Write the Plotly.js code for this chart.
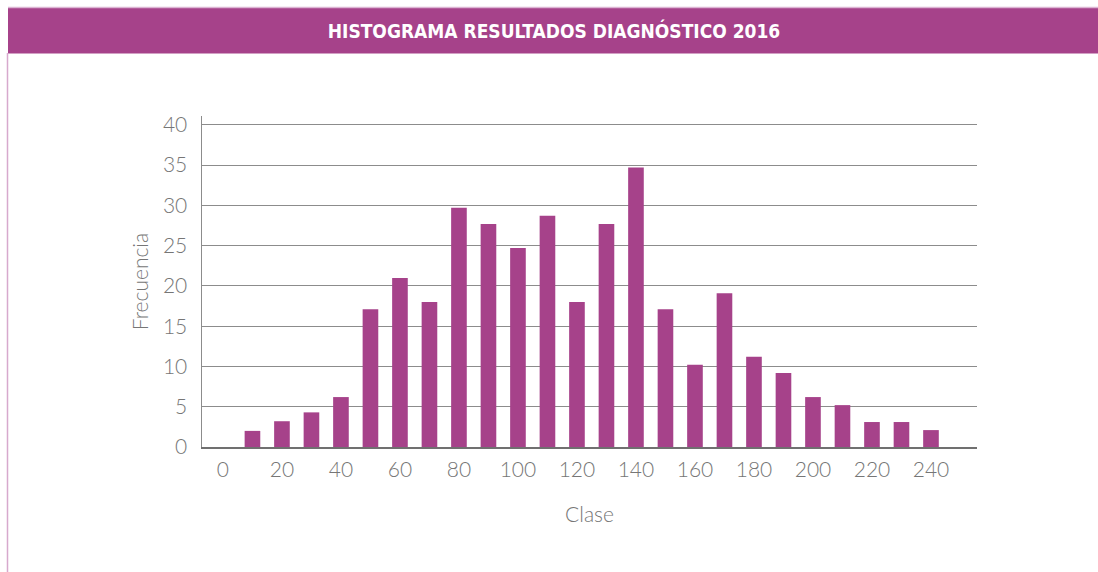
<!DOCTYPE html>
<html>
<head>
<meta charset="utf-8">
<script src="https://cdn.plot.ly/plotly-3.0.1.min.js"></script>
<style>
  html, body { margin: 0; padding: 0; background: #ffffff; }
  #chart { width: 1098px; height: 572px; }
</style>
</head>
<body>
<div id="chart"></div>
<script>
// ---- data ----
const clases = [0, 10, 20, 30, 40, 50, 60, 70, 80, 90, 100, 110, 120, 130, 140, 150, 160, 170, 180, 190, 200, 210, 220, 230, 240];
const frecuencia = [0, 2, 3.2, 4.3, 6.2, 17.1, 21, 18, 29.7, 27.7, 24.7, 28.7, 18, 27.7, 34.7, 17.1, 10.2, 19.1, 11.2, 9.2, 6.2, 5.2, 3.1, 3.1, 2.1];
const xTickVals = [0, 20, 40, 60, 80, 100, 120, 140, 160, 180, 200, 220, 240];
const xTickText = ['0', '20', '40', '60', '80', '100', '120', '140', '160', '180', '200', '220', '240'];
const yTickVals = [0, 5, 10, 15, 20, 25, 30, 35, 40];
const chartTitle = 'HISTOGRAMA RESULTADOS DIAGNÓSTICO 2016';
const xTitle = 'Clase';
const yTitle = 'Frecuencia';

// ---- layout geometry ----
const W = 1098, H = 572;
const mL = 202, mR = W - 977, mT = 116, mB = H - 447.3;
const pw = W - mL - mR, ph = H - mT - mB;
const px = v => (v - mL) / pw;          // pixel x -> paper x
const py = v => (H - mB - v) / ph;      // pixel y -> paper y

const purple = '#a6428a';
const tickFont = { family: 'Lato, "Open Sans", sans-serif', size: 21, color: '#767676', weight: 300 };

const trace = {
  type: 'bar',
  x: clases,
  y: frecuencia,
  width: 5.3,
  marker: { color: purple, line: { width: 0 } },
  hoverinfo: 'x+y'
};

const layout = {
  width: W, height: H,
  margin: { l: mL, r: mR, t: mT, b: mB, pad: 0 },
  paper_bgcolor: '#ffffff',
  plot_bgcolor: '#ffffff',
  showlegend: false,
  title: {
    text: chartTitle,
    x: 554 / W, xanchor: 'center',
    y: 1 - 31 / H, yanchor: 'middle',
    font: { family: '"Liberation Sans Narrow", "DejaVu Sans Condensed", sans-serif', size: 19, color: '#ffffff', weight: 700 }
  },
  xaxis: {
    range: [-7.1, 255.6],
    tickvals: xTickVals,
    ticktext: xTickText,
    showgrid: false,
    zeroline: false,
    showline: true,
    linecolor: '#707070',
    linewidth: 1.5,
    ticks: '',
    ticklabelstandoff: 3,
    tickfont: tickFont,
    title: { text: xTitle, font: tickFont, standoff: 27 },
    fixedrange: true
  },
  yaxis: {
    range: [0, 41.1],
    tickvals: yTickVals,
    showgrid: true,
    gridcolor: '#8c8c8c',
    gridwidth: 1,
    zeroline: false,
    showline: true,
    linecolor: '#8c8c8c',
    linewidth: 1.5,
    ticks: '',
    ticklabelstandoff: 9,
    tickfont: tickFont,
    title: { text: yTitle, font: tickFont, standoff: 8 },
    fixedrange: true
  },
  shapes: [
    // title band
    { type: 'rect', xref: 'paper', yref: 'paper', x0: px(8), x1: px(W + 2), y0: py(53.5), y1: py(8), fillcolor: purple, line: { width: 0 }, layer: 'above' },
    // thin light line above band
    { type: 'line', xref: 'paper', yref: 'paper', x0: px(8), x1: px(W + 2), y0: py(7.5), y1: py(7.5), line: { color: '#dcb4d3', width: 1.5 }, layer: 'above' },
    // left light border
    { type: 'line', xref: 'paper', yref: 'paper', x0: px(7.5), x1: px(7.5), y0: py(53), y1: py(H + 2), line: { color: '#d7a9cd', width: 1.5 }, layer: 'above' }
  ]
};

Plotly.newPlot('chart', [trace], layout, { displayModeBar: false, staticPlot: true });
</script>
</body>
</html>
